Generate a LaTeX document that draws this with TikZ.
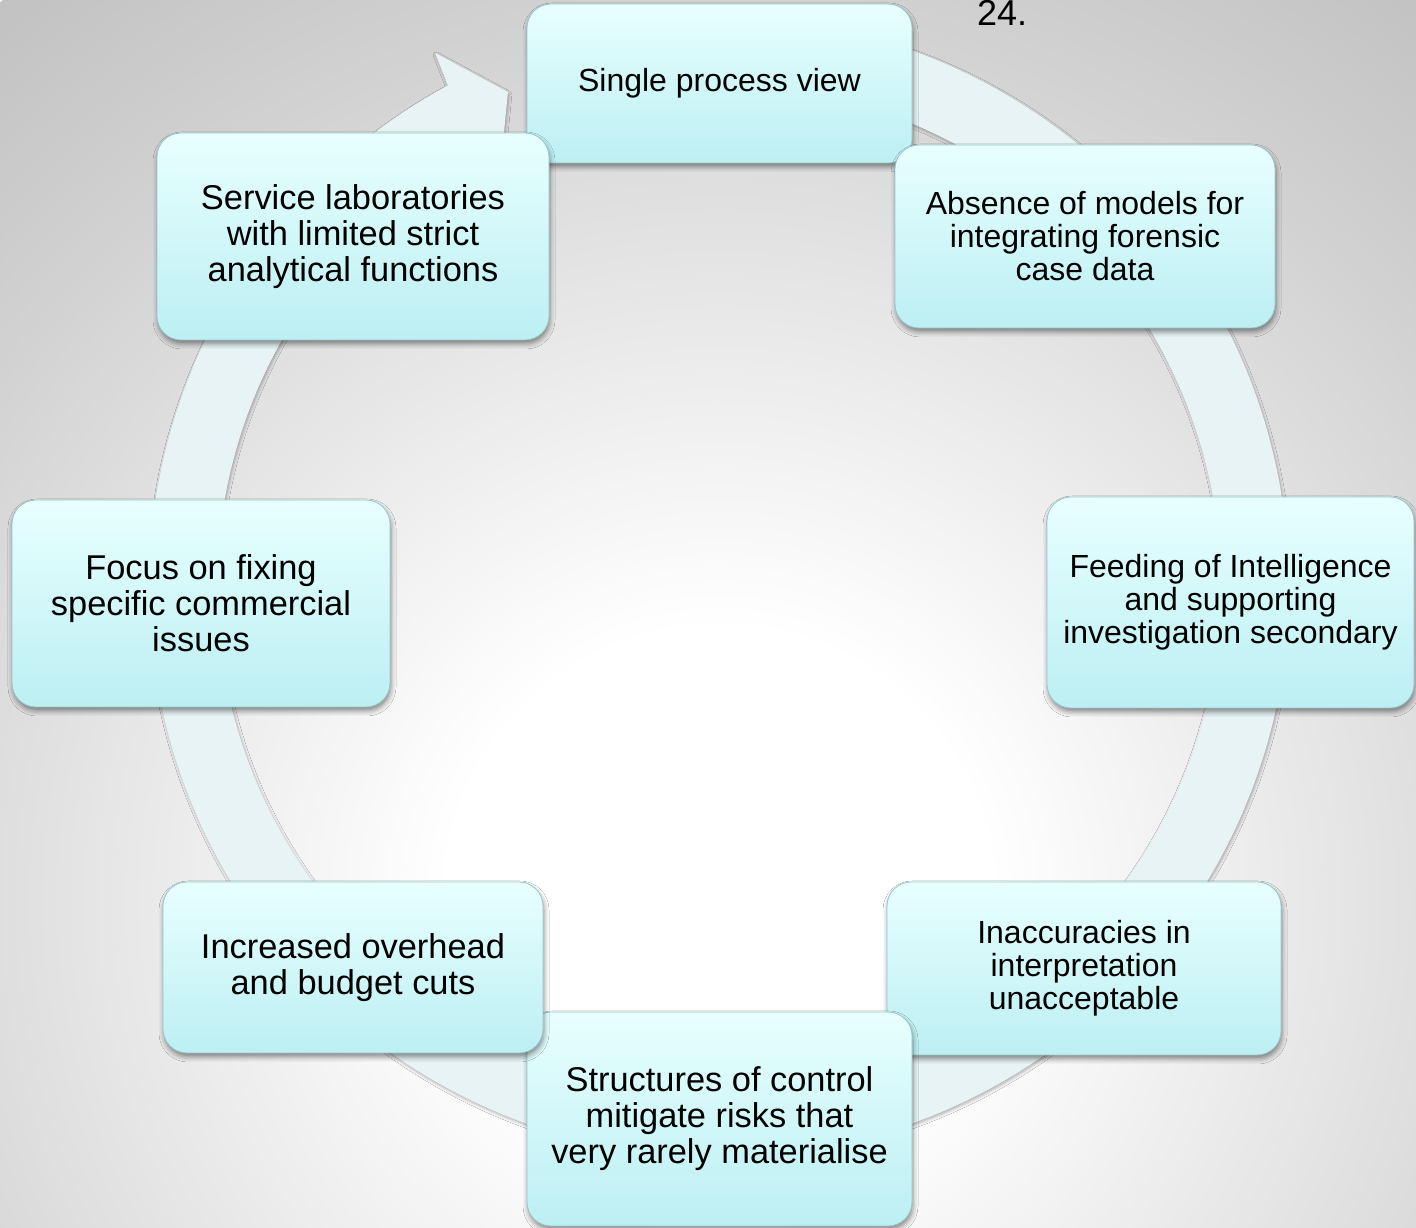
\documentclass[tikz,border=0pt]{standalone}
\usepackage{fontspec}
\setmainfont{Liberation Sans}
\usetikzlibrary{shadows.blur}
\definecolor{ringc}{RGB}{231,243,245}
\definecolor{boxtop}{RGB}{232,255,255}
\definecolor{boxbot}{RGB}{188,239,243}
\definecolor{boxline}{RGB}{150,198,203}
\definecolor{bgA}{gray}{0.82}
\definecolor{bgB}{gray}{0.76}
\pgfdeclareradialshading{bgshade}{\pgfpointorigin}{color(0bp)=(white); color(5.9bp)=(white); color(19.6bp)=(bgA); color(25bp)=(bgB); color(50bp)=(bgB)}
\begin{document}
\begin{tikzpicture}[x=1pt,y=1pt,
  box/.style={draw=boxline, line width=0.8pt, rounded corners=24pt,
    top color=boxtop, bottom color=boxbot, align=center, inner sep=0pt,
    blur shadow={shadow xshift=1pt, shadow yshift=-4pt, shadow blur radius=5pt, shadow opacity=45}},
  big/.style={font=\fontsize{34.4}{36}\selectfont},
  small/.style={font=\fontsize{32}{33}\selectfont}]
\useasboundingbox (0,0) rectangle (1416,1228);
\begin{scope}
  \clip (0,0) rectangle (1416,1228);
  \shade[shading=bgshade] (719,328) circle[radius=1150pt];
\end{scope}
% circular arrow
\fill[ringc, shift={(719,641)},
  blur shadow={shadow xshift=1pt, shadow yshift=-2pt, shadow blur radius=3pt, shadow opacity=30}]
  (97:570pt) arc[start angle=97, end angle=-241.6, radius=570pt]
  -- (-242:605pt) -- (-246.9:538pt) -- (-242:467pt) -- (-241.6:502pt)
  arc[start angle=-241.6, end angle=97, radius=502pt] -- cycle;
% boxes
\node[box, small, minimum width=385pt, minimum height=159pt] (t) at (719.5,1144.5) {Single process view};
\node[box, small, minimum width=380pt, minimum height=183pt] (tr) at (1085,991.5) {Absence of models for\\integrating forensic\\case data};
\node[box, small, minimum width=367pt, minimum height=211pt] (r) at (1230.5,625.5) {Feeding of Intelligence\\and supporting\\investigation secondary};
\node[box, small, minimum width=394pt, minimum height=173pt] (br) at (1084,259.5) {Inaccuracies in\\interpretation\\unacceptable};
\node[box, big, minimum width=385pt, minimum height=214pt] (b) at (719.5,109) {Structures of control\\mitigate risks that\\very rarely materialise};
\node[box, big, minimum width=380pt, minimum height=171pt] (bl) at (353,260.5) {Increased overhead\\and budget cuts};
\node[box, big, minimum width=378pt, minimum height=207pt] (l) at (201,624.5) {Focus on fixing\\specific commercial\\issues};
\node[box, big, minimum width=392pt, minimum height=207pt] (tl) at (353,991.5) {Service laboratories\\with limited strict\\analytical functions};
\node[anchor=base west, inner sep=0pt, font=\fontsize{36}{40}\selectfont] (num) at (977,1202) {24.};
\end{tikzpicture}
\end{document}
